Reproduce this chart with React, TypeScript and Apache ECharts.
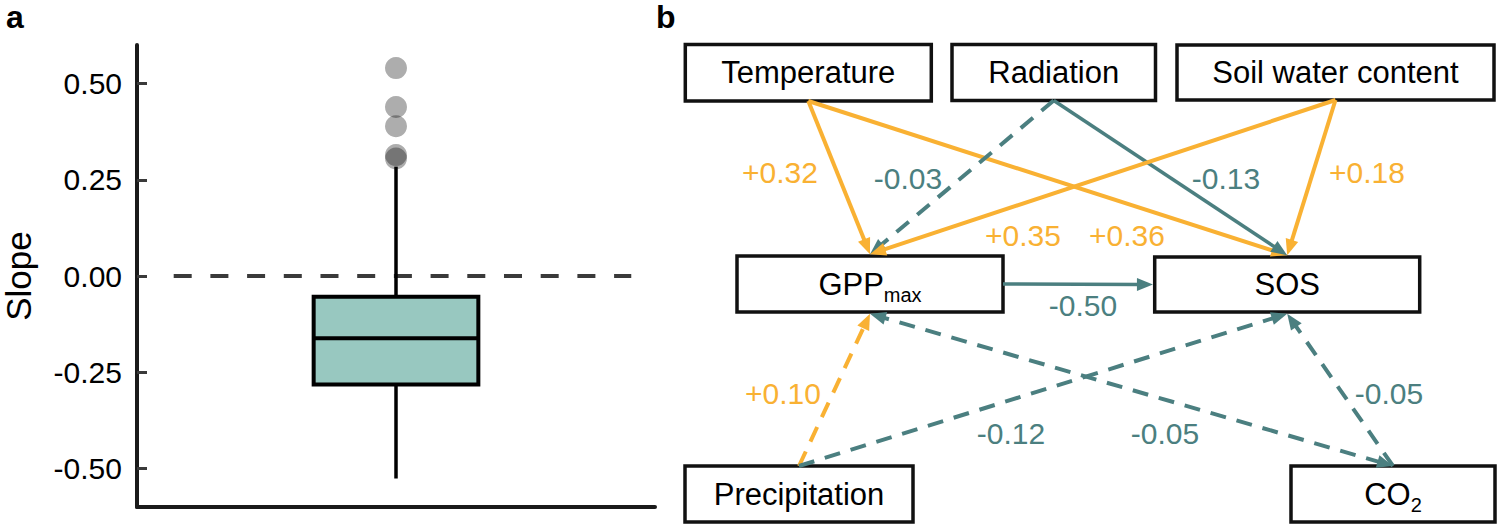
import React, { useEffect, useRef } from 'react';
import * as echarts from 'echarts';

// ---------- Panel a: boxplot of slopes ----------
// lower whisker, Q1, median, Q3, upper whisker
const boxStats = [-0.526, -0.282, -0.162, -0.054, 0.284];
const outlierValues = [0.54, 0.439, 0.389, 0.314, 0.305];
const yTicks = [-0.5, -0.25, 0, 0.25, 0.5];
const yTickLabels = ['-0.50', '-0.25', '0.00', '0.25', '0.50'];
const refLineValue = 0;
const refLineExtent = [0.485, 1.545];
const boxCategoryPos = 1;
const boxWidthUnits = 0.3815;

// ---------- Panel b: path diagram ----------
const nodeLabels = ['Temperature', 'Radiation', 'Soil water content', 'GPP', 'SOS', 'Precipitation', 'CO'];
const nodeSubscripts = ['', '', '', 'max', '', '', '2'];
const pathFrom = [0, 0, 1, 1, 2, 2, 3, 5, 5, 6, 6];
const pathTo = [3, 4, 3, 4, 3, 4, 4, 3, 4, 3, 4];
const pathCoef = [0.32, 0.36, -0.03, -0.13, 0.35, 0.18, -0.5, 0.1, -0.12, -0.05, -0.05];
const pathSignificant = [true, true, false, true, true, true, true, false, false, false, false];
const pathTwoHeaded = [false, false, false, false, false, false, false, false, false, true, false];

// layout of the diagram (pixel space of the hidden axes): [x, y, w, h]
const nodeBoxes = [
  [685.3, 44.5, 246, 56.5],
  [952, 44.5, 203.5, 56],
  [1177, 45, 317, 55],
  [737, 256, 266, 56],
  [1154.7, 257, 265, 55],
  [685, 466, 228, 56],
  [1291, 466, 204, 56],
];
const labelAt = [
  [780, 172], [1127, 235], [908, 178], [1226, 178], [1023, 235], [1367, 172],
  [1083, 305], [783, 393], [1011, 433], [1165, 433], [1389, 393],
];

const FONT = '"Liberation Sans", Arial, Helvetica, sans-serif';
const ORANGE = '#f9b133';
const TEAL = '#4b7f80';

let measureCtx: CanvasRenderingContext2D | null = null;
function textWidth(t: string, size: number) {
  if (!measureCtx) measureCtx = document.createElement('canvas').getContext('2d');
  if (!measureCtx) return t.length * size * 0.55;
  measureCtx.font = `${size}px ${FONT}`;
  return measureCtx.measureText(t).width;
}

function fmtCoef(c: number) {
  return (c > 0 ? '+' : '') + c.toFixed(2);
}

function anchors(fi: number, ti: number): [number[], number[]] {
  const f = nodeBoxes[fi];
  const t = nodeBoxes[ti];
  const hb = 1.75;
  if (f[1] + f[3] < t[1]) {
    return [[f[0] + f[2] / 2, f[1] + f[3]], [t[0] + t[2] / 2, t[1] - hb]];
  }
  if (f[1] > t[1] + t[3]) {
    return [[f[0] + f[2] / 2, f[1]], [t[0] + t[2] / 2, t[1] + t[3] + hb]];
  }
  return [[f[0] + f[2], f[1] + f[3] / 2], [t[0] - hb, t[1] + t[3] / 2]];
}

function head(tip: number[], from: number[], color: string) {
  const dx = tip[0] - from[0];
  const dy = tip[1] - from[1];
  const len = Math.sqrt(dx * dx + dy * dy) || 1;
  const ux = dx / len;
  const uy = dy / len;
  const L = 16;
  const W = 6.5;
  const bx = tip[0] - ux * L;
  const by = tip[1] - uy * L;
  return {
    type: 'polygon',
    shape: { points: [[tip[0], tip[1]], [bx - uy * W, by + ux * W], [bx + uy * W, by - ux * W]] },
    style: { fill: color },
  };
}

export default function App() {
  const ref = useRef<HTMLDivElement>(null);
  useEffect(() => {
    if (!ref.current) return;
    const chart = echarts.init(ref.current, null, { renderer: 'svg' });

    const option: any = {
      animation: false,
      backgroundColor: '#ffffff',
      textStyle: { fontFamily: FONT },
      grid: [
        { left: 136, top: 45, width: 519, height: 462 },
        { left: 0, top: 0, width: 1498, height: 525 },
      ],
      xAxis: [
        {
          gridIndex: 0, type: 'value', min: 0.4, max: 1.6,
          axisLine: { show: true, onZero: false, lineStyle: { color: '#1a1a1a', width: 4 } },
          axisTick: { show: false }, axisLabel: { show: false }, splitLine: { show: false },
        },
        { gridIndex: 1, type: 'value', min: 0, max: 1498, show: false },
      ],
      yAxis: [
        {
          gridIndex: 0, type: 'value', min: -0.6, max: 0.6,
          name: 'Slope', nameLocation: 'middle', nameGap: 101,
          nameTextStyle: { fontSize: 35, color: '#000', fontFamily: FONT },
          axisLine: { show: true, onZero: false, lineStyle: { color: '#1a1a1a', width: 4 } },
          axisTick: { show: true, inside: true, length: 10, customValues: yTicks, lineStyle: { color: '#3a3a3a', width: 3 } },
          axisLabel: {
            customValues: yTicks, fontSize: 30, color: '#000', margin: 15, fontFamily: FONT,
            formatter: (v: number) => {
              const i = yTicks.findIndex((t) => Math.abs(t - v) < 1e-9);
              return i >= 0 ? yTickLabels[i] : '';
            },
          },
          splitLine: { show: false },
        },
        { gridIndex: 1, type: 'value', min: 0, max: 525, inverse: true, show: false },
      ],
      graphic: [
        { type: 'text', x: 6, y: 33, style: { text: 'a', fontSize: 32, fontWeight: 'bold', fontFamily: FONT, fill: '#000', verticalAlign: 'bottom' } },
        { type: 'text', x: 656, y: 33, style: { text: 'b', fontSize: 32, fontWeight: 'bold', fontFamily: FONT, fill: '#000', verticalAlign: 'bottom' } },
      ],
      series: [
        {
          type: 'line', xAxisIndex: 0, yAxisIndex: 0, silent: true, symbol: 'none',
          data: refLineExtent.map((x) => [x, refLineValue]),
          lineStyle: { color: '#3a3a3a', width: 4, type: [18, 18.7] },
          z: 2,
        },
        {
          type: 'custom', xAxisIndex: 0, yAxisIndex: 0, silent: true, z: 3,
          data: [[boxCategoryPos, ...boxStats]],
          renderItem: (params: any, api: any) => {
            const x = api.value(0);
            const lo = api.coord([x, api.value(1)]);
            const q1 = api.coord([x, api.value(2)]);
            const med = api.coord([x, api.value(3)]);
            const q3 = api.coord([x, api.value(4)]);
            const hi = api.coord([x, api.value(5)]);
            const half = api.size([boxWidthUnits, 0])[0] / 2;
            const cx = lo[0];
            return {
              type: 'group',
              children: [
                { type: 'line', shape: { x1: cx, y1: hi[1], x2: cx, y2: q3[1] }, style: { stroke: '#000', lineWidth: 3.5 } },
                { type: 'line', shape: { x1: cx, y1: q1[1], x2: cx, y2: lo[1] }, style: { stroke: '#000', lineWidth: 3.5 } },
                { type: 'rect', shape: { x: cx - half, y: q3[1], width: 2 * half, height: q1[1] - q3[1] }, style: { fill: '#98c8c0', stroke: '#000', lineWidth: 4 } },
                { type: 'line', shape: { x1: cx - half, y1: med[1], x2: cx + half, y2: med[1] }, style: { stroke: '#000', lineWidth: 4 } },
              ],
            };
          },
        },
        {
          type: 'scatter', xAxisIndex: 0, yAxisIndex: 0, silent: true, z: 4,
          data: outlierValues.map((v) => [boxCategoryPos, v]),
          symbol: 'circle', symbolSize: 22,
          itemStyle: { color: 'rgba(0,0,0,0.4)' },
        },
        {
          type: 'custom', xAxisIndex: 1, yAxisIndex: 1, silent: true, z: 5,
          data: nodeLabels.map((_, i) => [i, 0]),
          renderItem: (params: any, api: any) => {
            const i = api.value(0);
            const b = nodeBoxes[i];
            const p0 = api.coord([b[0], b[1]]);
            const p1 = api.coord([b[0] + b[2], b[1] + b[3]]);
            const cx = (p0[0] + p1[0]) / 2;
            const cy = (p0[1] + p1[1]) / 2;
            const main = nodeLabels[i];
            const sub = nodeSubscripts[i];
            const w1 = textWidth(main, 31);
            const w2 = sub ? textWidth(sub, 20) : 0;
            const x0 = cx - (w1 + w2) / 2;
            const children: any[] = [
              { type: 'rect', shape: { x: p0[0], y: p0[1], width: p1[0] - p0[0], height: p1[1] - p0[1] }, style: { fill: '#fff', stroke: '#111', lineWidth: 3.5 } },
              { type: 'text', style: { text: main, x: x0, y: cy, align: 'left', verticalAlign: 'middle', fontSize: 31, fontFamily: FONT, fill: '#000' } },
            ];
            if (sub) {
              children.push({ type: 'text', style: { text: sub, x: x0 + w1, y: cy + 11, align: 'left', verticalAlign: 'middle', fontSize: 20, fontFamily: FONT, fill: '#000' } });
            }
            return { type: 'group', children };
          },
        },
        {
          type: 'custom', xAxisIndex: 1, yAxisIndex: 1, silent: true, z: 6,
          data: pathCoef.map((c, i) => [i, c]),
          renderItem: (params: any, api: any) => {
            const i = api.value(0);
            const c = api.value(1);
            const [fa, ta] = anchors(pathFrom[i], pathTo[i]);
            const a = api.coord(fa);
            const b = api.coord(ta);
            const color = c > 0 ? ORANGE : TEAL;
            const sig = pathSignificant[i];
            const two = pathTwoHeaded[i];
            const dx = b[0] - a[0];
            const dy = b[1] - a[1];
            const len = Math.sqrt(dx * dx + dy * dy) || 1;
            const ux = dx / len;
            const uy = dy / len;
            const cut = 12;
            const s = two ? [a[0] + ux * cut, a[1] + uy * cut] : a;
            const e = [b[0] - ux * cut, b[1] - uy * cut];
            const lw = sig ? (c > 0 ? 4 : 3.5) : 4;
            const lp = api.coord(labelAt[i]);
            const children: any[] = [
              {
                type: 'line',
                shape: { x1: s[0], y1: s[1], x2: e[0], y2: e[1] },
                style: { stroke: color, lineWidth: lw, lineDash: sig ? null : [16, 11] },
              },
              head(b, a, color),
            ];
            if (two) children.push(head(a, b, color));
            children.push({
              type: 'text',
              style: { text: fmtCoef(c), x: lp[0], y: lp[1], align: 'center', verticalAlign: 'middle', fontSize: 30, fontFamily: FONT, fill: color },
            });
            return { type: 'group', children };
          },
        },
      ],
    };

    chart.setOption(option);
    return () => chart.dispose();
  }, []);

  return <div ref={ref} style={{ position: 'absolute', left: 0, top: 0, width: 1498, height: 525 }} />;
}
